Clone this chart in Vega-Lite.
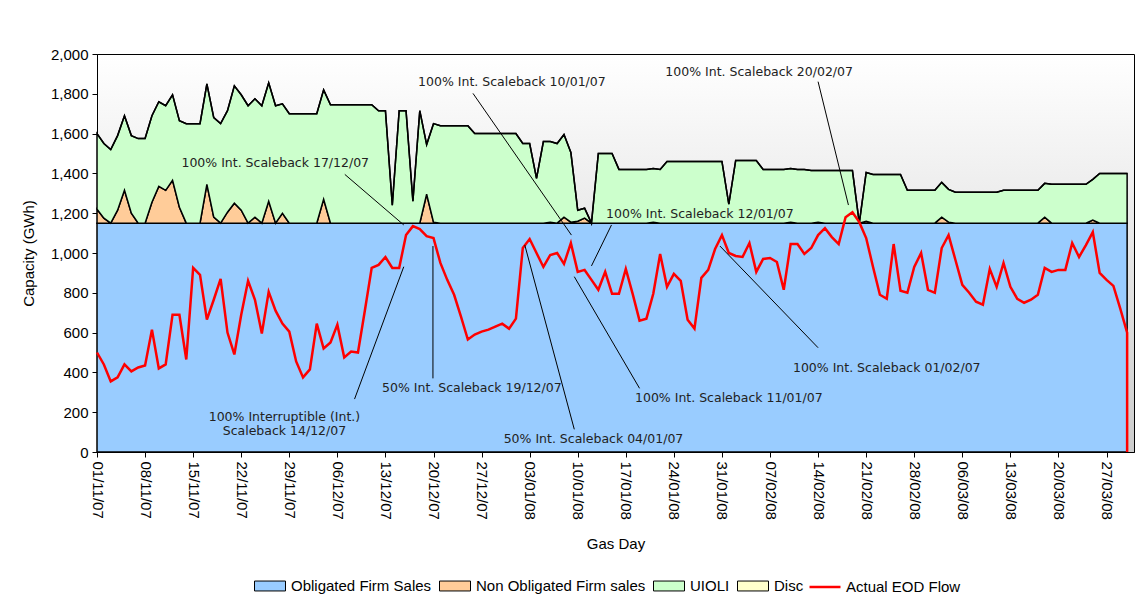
{
  "$schema": "https://vega.github.io/schema/vega-lite/v6.json",
  "autosize": {"type": "none"},
  "padding": {"left": 97, "top": 54, "right": 12, "bottom": 152},
  "width": 1037,
  "height": 398,
  "background": "#ffffff",
  "datasets": {
    "series": [
      {"key": "ofs", "name": "Obligated Firm Sales", "rank": 1},
      {"key": "nofs", "name": "Non Obligated Firm sales", "rank": 2},
      {"key": "uioli", "name": "UIOLI", "rank": 3},
      {"key": "disc", "name": "Disc", "rank": 4}
    ],
    "labels": [
      {"label": "100% Int. Scaleback 17/12/07", "date": "2007-11-26T23:00:00Z", "tval": 1451},
      {"label": "100% Int. Scaleback 10/01/07", "date": "2007-12-31T10:00:00Z", "tval": 1858},
      {"label": "100% Int. Scaleback 20/02/07", "date": "2008-02-05T10:00:00Z", "tval": 1911},
      {"label": "100% Int. Scaleback 12/01/07", "date": "2008-01-27T19:00:00Z", "tval": 1196},
      {"label": "100% Interruptible (Int.)\nScaleback 14/12/07", "date": "2007-11-28T07:00:00Z", "tval": 176},
      {"label": "50% Int. Scaleback 19/12/07", "date": "2007-12-25T14:00:00Z", "tval": 321},
      {"label": "50% Int. Scaleback 04/01/07", "date": "2008-01-12T07:00:00Z", "tval": 65},
      {"label": "100% Int. Scaleback 11/01/07", "date": "2008-02-01T00:00:00Z", "tval": 270},
      {"label": "100% Int. Scaleback 01/02/07", "date": "2008-02-24T00:00:00Z", "tval": 424}
    ],
    "leaders": [
      {"date": "2007-12-07T02:00:00Z", "v1": 1395, "date2": "2007-12-15T16:00:00Z", "v2": 1141},
      {"date": "2007-12-25T18:00:00Z", "v1": 1802, "date2": "2008-01-09T02:00:00Z", "v2": 1090},
      {"date": "2008-02-14T00:00:00Z", "v1": 1861, "date2": "2008-02-18T10:00:00Z", "v2": 1241},
      {"date": "2008-01-14T22:00:00Z", "v1": 1141, "date2": "2008-01-12T00:00:00Z", "v2": 935},
      {"date": "2007-12-08T12:00:00Z", "v1": 266, "date2": "2007-12-15T16:00:00Z", "v2": 931},
      {"date": "2007-12-19T22:00:00Z", "v1": 370, "date2": "2007-12-19T22:00:00Z", "v2": 1035},
      {"date": "2008-01-09T12:00:00Z", "v1": 114, "date2": "2008-01-02T07:00:00Z", "v2": 1040},
      {"date": "2008-01-19T00:00:00Z", "v1": 320, "date2": "2008-01-09T12:00:00Z", "v2": 881},
      {"date": "2008-02-14T00:00:00Z", "v1": 524, "date2": "2008-01-30T17:00:00Z", "v2": 1035}
    ],
    "days": [
      {"date": "2007-11-01", "ofs": 1150, "nofs": 70, "uioli": 380, "disc": 0, "flow": 500},
      {"date": "2007-11-02", "ofs": 1150, "nofs": 25, "uioli": 375, "disc": 0, "flow": 440},
      {"date": "2007-11-03", "ofs": 1150, "nofs": 0, "uioli": 370, "disc": 0, "flow": 355},
      {"date": "2007-11-04", "ofs": 1150, "nofs": 65, "uioli": 375, "disc": 0, "flow": 375},
      {"date": "2007-11-05", "ofs": 1150, "nofs": 165, "uioli": 375, "disc": 0, "flow": 440},
      {"date": "2007-11-06", "ofs": 1150, "nofs": 50, "uioli": 390, "disc": 0, "flow": 405},
      {"date": "2007-11-07", "ofs": 1150, "nofs": 0, "uioli": 425, "disc": 0, "flow": 425},
      {"date": "2007-11-08", "ofs": 1150, "nofs": 0, "uioli": 425, "disc": 0, "flow": 435},
      {"date": "2007-11-09", "ofs": 1150, "nofs": 105, "uioli": 435, "disc": 0, "flow": 615},
      {"date": "2007-11-10", "ofs": 1150, "nofs": 185, "uioli": 425, "disc": 0, "flow": 420},
      {"date": "2007-11-11", "ofs": 1150, "nofs": 165, "uioli": 425, "disc": 0, "flow": 440},
      {"date": "2007-11-12", "ofs": 1150, "nofs": 215, "uioli": 430, "disc": 0, "flow": 690},
      {"date": "2007-11-13", "ofs": 1150, "nofs": 80, "uioli": 435, "disc": 0, "flow": 690},
      {"date": "2007-11-14", "ofs": 1150, "nofs": 0, "uioli": 500, "disc": 0, "flow": 465},
      {"date": "2007-11-15", "ofs": 1150, "nofs": 0, "uioli": 500, "disc": 0, "flow": 925},
      {"date": "2007-11-16", "ofs": 1150, "nofs": 0, "uioli": 500, "disc": 0, "flow": 890},
      {"date": "2007-11-17", "ofs": 1150, "nofs": 195, "uioli": 505, "disc": 0, "flow": 665},
      {"date": "2007-11-18", "ofs": 1150, "nofs": 30, "uioli": 500, "disc": 0, "flow": 765},
      {"date": "2007-11-19", "ofs": 1150, "nofs": 0, "uioli": 500, "disc": 0, "flow": 870},
      {"date": "2007-11-20", "ofs": 1150, "nofs": 55, "uioli": 510, "disc": 0, "flow": 600},
      {"date": "2007-11-21", "ofs": 1150, "nofs": 100, "uioli": 590, "disc": 0, "flow": 490},
      {"date": "2007-11-22", "ofs": 1150, "nofs": 65, "uioli": 580, "disc": 0, "flow": 690},
      {"date": "2007-11-23", "ofs": 1150, "nofs": 0, "uioli": 590, "disc": 0, "flow": 860},
      {"date": "2007-11-24", "ofs": 1150, "nofs": 30, "uioli": 595, "disc": 0, "flow": 765},
      {"date": "2007-11-25", "ofs": 1150, "nofs": 0, "uioli": 590, "disc": 0, "flow": 595},
      {"date": "2007-11-26", "ofs": 1150, "nofs": 110, "uioli": 595, "disc": 0, "flow": 805},
      {"date": "2007-11-27", "ofs": 1150, "nofs": 0, "uioli": 590, "disc": 0, "flow": 710},
      {"date": "2007-11-28", "ofs": 1150, "nofs": 50, "uioli": 550, "disc": 0, "flow": 645},
      {"date": "2007-11-29", "ofs": 1150, "nofs": 0, "uioli": 550, "disc": 0, "flow": 605},
      {"date": "2007-11-30", "ofs": 1150, "nofs": 0, "uioli": 550, "disc": 0, "flow": 455},
      {"date": "2007-12-01", "ofs": 1150, "nofs": 0, "uioli": 550, "disc": 0, "flow": 375},
      {"date": "2007-12-02", "ofs": 1150, "nofs": 0, "uioli": 550, "disc": 0, "flow": 415},
      {"date": "2007-12-03", "ofs": 1150, "nofs": 0, "uioli": 550, "disc": 0, "flow": 645},
      {"date": "2007-12-04", "ofs": 1150, "nofs": 120, "uioli": 550, "disc": 0, "flow": 520},
      {"date": "2007-12-05", "ofs": 1150, "nofs": 0, "uioli": 595, "disc": 0, "flow": 550},
      {"date": "2007-12-06", "ofs": 1150, "nofs": 0, "uioli": 595, "disc": 0, "flow": 640},
      {"date": "2007-12-07", "ofs": 1150, "nofs": 0, "uioli": 595, "disc": 0, "flow": 475},
      {"date": "2007-12-08", "ofs": 1150, "nofs": 0, "uioli": 595, "disc": 0, "flow": 505},
      {"date": "2007-12-09", "ofs": 1150, "nofs": 0, "uioli": 595, "disc": 0, "flow": 500},
      {"date": "2007-12-10", "ofs": 1150, "nofs": 0, "uioli": 595, "disc": 0, "flow": 710},
      {"date": "2007-12-11", "ofs": 1150, "nofs": 0, "uioli": 595, "disc": 0, "flow": 925},
      {"date": "2007-12-12", "ofs": 1150, "nofs": 0, "uioli": 565, "disc": 0, "flow": 940},
      {"date": "2007-12-13", "ofs": 1150, "nofs": 0, "uioli": 565, "disc": 0, "flow": 980},
      {"date": "2007-12-14", "ofs": 1150, "nofs": 0, "uioli": 90, "disc": 0, "flow": 925},
      {"date": "2007-12-15", "ofs": 1150, "nofs": 0, "uioli": 565, "disc": 0, "flow": 925},
      {"date": "2007-12-16", "ofs": 1150, "nofs": 0, "uioli": 565, "disc": 0, "flow": 1090},
      {"date": "2007-12-17", "ofs": 1150, "nofs": 0, "uioli": 110, "disc": 0, "flow": 1135},
      {"date": "2007-12-18", "ofs": 1150, "nofs": 0, "uioli": 565, "disc": 0, "flow": 1120},
      {"date": "2007-12-19", "ofs": 1150, "nofs": 145, "uioli": 250, "disc": 0, "flow": 1085},
      {"date": "2007-12-20", "ofs": 1150, "nofs": 5, "uioli": 495, "disc": 0, "flow": 1075},
      {"date": "2007-12-21", "ofs": 1150, "nofs": 0, "uioli": 490, "disc": 0, "flow": 950},
      {"date": "2007-12-22", "ofs": 1150, "nofs": 0, "uioli": 490, "disc": 0, "flow": 865},
      {"date": "2007-12-23", "ofs": 1150, "nofs": 0, "uioli": 490, "disc": 0, "flow": 790},
      {"date": "2007-12-24", "ofs": 1150, "nofs": 0, "uioli": 490, "disc": 0, "flow": 680},
      {"date": "2007-12-25", "ofs": 1150, "nofs": 0, "uioli": 490, "disc": 0, "flow": 565},
      {"date": "2007-12-26", "ofs": 1150, "nofs": 0, "uioli": 450, "disc": 0, "flow": 590},
      {"date": "2007-12-27", "ofs": 1150, "nofs": 0, "uioli": 450, "disc": 0, "flow": 605},
      {"date": "2007-12-28", "ofs": 1150, "nofs": 0, "uioli": 450, "disc": 0, "flow": 615},
      {"date": "2007-12-29", "ofs": 1150, "nofs": 0, "uioli": 450, "disc": 0, "flow": 630},
      {"date": "2007-12-30", "ofs": 1150, "nofs": 0, "uioli": 450, "disc": 0, "flow": 645},
      {"date": "2007-12-31", "ofs": 1150, "nofs": 0, "uioli": 450, "disc": 0, "flow": 620},
      {"date": "2008-01-01", "ofs": 1150, "nofs": 0, "uioli": 450, "disc": 0, "flow": 670},
      {"date": "2008-01-02", "ofs": 1150, "nofs": 0, "uioli": 400, "disc": 0, "flow": 1025},
      {"date": "2008-01-03", "ofs": 1150, "nofs": 0, "uioli": 400, "disc": 0, "flow": 1070},
      {"date": "2008-01-04", "ofs": 1150, "nofs": 0, "uioli": 225, "disc": 0, "flow": 1000},
      {"date": "2008-01-05", "ofs": 1150, "nofs": 0, "uioli": 410, "disc": 0, "flow": 930},
      {"date": "2008-01-06", "ofs": 1150, "nofs": 5, "uioli": 405, "disc": 0, "flow": 990},
      {"date": "2008-01-07", "ofs": 1150, "nofs": 0, "uioli": 400, "disc": 0, "flow": 1000},
      {"date": "2008-01-08", "ofs": 1150, "nofs": 30, "uioli": 415, "disc": 0, "flow": 945},
      {"date": "2008-01-09", "ofs": 1150, "nofs": 5, "uioli": 350, "disc": 0, "flow": 1050},
      {"date": "2008-01-10", "ofs": 1150, "nofs": 10, "uioli": 55, "disc": 0, "flow": 905},
      {"date": "2008-01-11", "ofs": 1150, "nofs": 25, "uioli": 50, "disc": 0, "flow": 915},
      {"date": "2008-01-12", "ofs": 1150, "nofs": 0, "uioli": 0, "disc": 0, "flow": 865},
      {"date": "2008-01-13", "ofs": 1150, "nofs": 0, "uioli": 350, "disc": 0, "flow": 815},
      {"date": "2008-01-14", "ofs": 1150, "nofs": 0, "uioli": 350, "disc": 0, "flow": 905},
      {"date": "2008-01-15", "ofs": 1150, "nofs": 0, "uioli": 350, "disc": 0, "flow": 795},
      {"date": "2008-01-16", "ofs": 1150, "nofs": 0, "uioli": 270, "disc": 0, "flow": 795},
      {"date": "2008-01-17", "ofs": 1150, "nofs": 0, "uioli": 270, "disc": 0, "flow": 920},
      {"date": "2008-01-18", "ofs": 1150, "nofs": 0, "uioli": 270, "disc": 0, "flow": 795},
      {"date": "2008-01-19", "ofs": 1150, "nofs": 0, "uioli": 270, "disc": 0, "flow": 660},
      {"date": "2008-01-20", "ofs": 1150, "nofs": 0, "uioli": 270, "disc": 0, "flow": 670},
      {"date": "2008-01-21", "ofs": 1150, "nofs": 5, "uioli": 270, "disc": 0, "flow": 795},
      {"date": "2008-01-22", "ofs": 1150, "nofs": 0, "uioli": 270, "disc": 0, "flow": 995},
      {"date": "2008-01-23", "ofs": 1150, "nofs": 0, "uioli": 310, "disc": 0, "flow": 830},
      {"date": "2008-01-24", "ofs": 1150, "nofs": 0, "uioli": 310, "disc": 0, "flow": 895},
      {"date": "2008-01-25", "ofs": 1150, "nofs": 0, "uioli": 310, "disc": 0, "flow": 860},
      {"date": "2008-01-26", "ofs": 1150, "nofs": 0, "uioli": 310, "disc": 0, "flow": 665},
      {"date": "2008-01-27", "ofs": 1150, "nofs": 0, "uioli": 310, "disc": 0, "flow": 620},
      {"date": "2008-01-28", "ofs": 1150, "nofs": 0, "uioli": 310, "disc": 0, "flow": 875},
      {"date": "2008-01-29", "ofs": 1150, "nofs": 0, "uioli": 310, "disc": 0, "flow": 915},
      {"date": "2008-01-30", "ofs": 1150, "nofs": 0, "uioli": 310, "disc": 0, "flow": 1020},
      {"date": "2008-01-31", "ofs": 1150, "nofs": 0, "uioli": 310, "disc": 0, "flow": 1090},
      {"date": "2008-02-01", "ofs": 1150, "nofs": 0, "uioli": 95, "disc": 0, "flow": 1000},
      {"date": "2008-02-02", "ofs": 1150, "nofs": 0, "uioli": 315, "disc": 0, "flow": 985},
      {"date": "2008-02-03", "ofs": 1150, "nofs": 0, "uioli": 315, "disc": 0, "flow": 980},
      {"date": "2008-02-04", "ofs": 1150, "nofs": 0, "uioli": 315, "disc": 0, "flow": 1050},
      {"date": "2008-02-05", "ofs": 1150, "nofs": 0, "uioli": 315, "disc": 0, "flow": 905},
      {"date": "2008-02-06", "ofs": 1150, "nofs": 0, "uioli": 270, "disc": 0, "flow": 970},
      {"date": "2008-02-07", "ofs": 1150, "nofs": 0, "uioli": 270, "disc": 0, "flow": 975},
      {"date": "2008-02-08", "ofs": 1150, "nofs": 0, "uioli": 270, "disc": 0, "flow": 955},
      {"date": "2008-02-09", "ofs": 1150, "nofs": 0, "uioli": 270, "disc": 0, "flow": 815},
      {"date": "2008-02-10", "ofs": 1150, "nofs": 5, "uioli": 270, "disc": 0, "flow": 1045},
      {"date": "2008-02-11", "ofs": 1150, "nofs": 0, "uioli": 270, "disc": 0, "flow": 1045},
      {"date": "2008-02-12", "ofs": 1150, "nofs": 0, "uioli": 270, "disc": 0, "flow": 995},
      {"date": "2008-02-13", "ofs": 1150, "nofs": 0, "uioli": 265, "disc": 0, "flow": 1025},
      {"date": "2008-02-14", "ofs": 1150, "nofs": 5, "uioli": 260, "disc": 0, "flow": 1090},
      {"date": "2008-02-15", "ofs": 1150, "nofs": 0, "uioli": 265, "disc": 0, "flow": 1125},
      {"date": "2008-02-16", "ofs": 1150, "nofs": 0, "uioli": 265, "disc": 0, "flow": 1080},
      {"date": "2008-02-17", "ofs": 1150, "nofs": 0, "uioli": 265, "disc": 0, "flow": 1045},
      {"date": "2008-02-18", "ofs": 1150, "nofs": 0, "uioli": 265, "disc": 0, "flow": 1180},
      {"date": "2008-02-19", "ofs": 1150, "nofs": 0, "uioli": 265, "disc": 0, "flow": 1205},
      {"date": "2008-02-20", "ofs": 1150, "nofs": 0, "uioli": 0, "disc": 0, "flow": 1155},
      {"date": "2008-02-21", "ofs": 1150, "nofs": 10, "uioli": 245, "disc": 0, "flow": 1075},
      {"date": "2008-02-22", "ofs": 1150, "nofs": 0, "uioli": 245, "disc": 0, "flow": 930},
      {"date": "2008-02-23", "ofs": 1150, "nofs": 0, "uioli": 245, "disc": 0, "flow": 790},
      {"date": "2008-02-24", "ofs": 1150, "nofs": 0, "uioli": 245, "disc": 0, "flow": 770},
      {"date": "2008-02-25", "ofs": 1150, "nofs": 0, "uioli": 245, "disc": 0, "flow": 1045},
      {"date": "2008-02-26", "ofs": 1150, "nofs": 0, "uioli": 245, "disc": 0, "flow": 810},
      {"date": "2008-02-27", "ofs": 1150, "nofs": 0, "uioli": 165, "disc": 0, "flow": 800},
      {"date": "2008-02-28", "ofs": 1150, "nofs": 0, "uioli": 165, "disc": 0, "flow": 930},
      {"date": "2008-02-29", "ofs": 1150, "nofs": 0, "uioli": 165, "disc": 0, "flow": 1000},
      {"date": "2008-03-01", "ofs": 1150, "nofs": 0, "uioli": 165, "disc": 0, "flow": 815},
      {"date": "2008-03-02", "ofs": 1150, "nofs": 0, "uioli": 165, "disc": 0, "flow": 800},
      {"date": "2008-03-03", "ofs": 1150, "nofs": 30, "uioli": 175, "disc": 0, "flow": 1025},
      {"date": "2008-03-04", "ofs": 1150, "nofs": 5, "uioli": 165, "disc": 0, "flow": 1090},
      {"date": "2008-03-05", "ofs": 1150, "nofs": 0, "uioli": 155, "disc": 0, "flow": 965},
      {"date": "2008-03-06", "ofs": 1150, "nofs": 0, "uioli": 155, "disc": 0, "flow": 840},
      {"date": "2008-03-07", "ofs": 1150, "nofs": 0, "uioli": 155, "disc": 0, "flow": 800},
      {"date": "2008-03-08", "ofs": 1150, "nofs": 0, "uioli": 155, "disc": 0, "flow": 755},
      {"date": "2008-03-09", "ofs": 1150, "nofs": 0, "uioli": 155, "disc": 0, "flow": 740},
      {"date": "2008-03-10", "ofs": 1150, "nofs": 0, "uioli": 155, "disc": 0, "flow": 920},
      {"date": "2008-03-11", "ofs": 1150, "nofs": 0, "uioli": 155, "disc": 0, "flow": 830},
      {"date": "2008-03-12", "ofs": 1150, "nofs": 0, "uioli": 165, "disc": 0, "flow": 950},
      {"date": "2008-03-13", "ofs": 1150, "nofs": 0, "uioli": 165, "disc": 0, "flow": 830},
      {"date": "2008-03-14", "ofs": 1150, "nofs": 0, "uioli": 165, "disc": 0, "flow": 770},
      {"date": "2008-03-15", "ofs": 1150, "nofs": 0, "uioli": 165, "disc": 0, "flow": 750},
      {"date": "2008-03-16", "ofs": 1150, "nofs": 0, "uioli": 165, "disc": 0, "flow": 765},
      {"date": "2008-03-17", "ofs": 1150, "nofs": 0, "uioli": 165, "disc": 0, "flow": 790},
      {"date": "2008-03-18", "ofs": 1150, "nofs": 30, "uioli": 170, "disc": 0, "flow": 925},
      {"date": "2008-03-19", "ofs": 1150, "nofs": 0, "uioli": 195, "disc": 0, "flow": 905},
      {"date": "2008-03-20", "ofs": 1150, "nofs": 0, "uioli": 195, "disc": 0, "flow": 915},
      {"date": "2008-03-21", "ofs": 1150, "nofs": 0, "uioli": 195, "disc": 0, "flow": 915},
      {"date": "2008-03-22", "ofs": 1150, "nofs": 0, "uioli": 195, "disc": 0, "flow": 1050},
      {"date": "2008-03-23", "ofs": 1150, "nofs": 0, "uioli": 195, "disc": 0, "flow": 980},
      {"date": "2008-03-24", "ofs": 1150, "nofs": 0, "uioli": 195, "disc": 0, "flow": 1040},
      {"date": "2008-03-25", "ofs": 1150, "nofs": 15, "uioli": 205, "disc": 0, "flow": 1105},
      {"date": "2008-03-26", "ofs": 1150, "nofs": 0, "uioli": 250, "disc": 0, "flow": 900},
      {"date": "2008-03-27", "ofs": 1150, "nofs": 0, "uioli": 250, "disc": 0, "flow": 865},
      {"date": "2008-03-28", "ofs": 1150, "nofs": 0, "uioli": 250, "disc": 0, "flow": 835},
      {"date": "2008-03-29", "ofs": 1150, "nofs": 0, "uioli": 250, "disc": 0, "flow": 720},
      {"date": "2008-03-30", "ofs": 1150, "nofs": 0, "uioli": 250, "disc": 0, "flow": 600},
      {"date": "2008-03-30", "flow": 0}
    ]
  },
  "encoding": {
    "x": {
      "field": "date",
      "type": "temporal",
      "title": "Gas Day",
      "scale": {
        "type": "utc",
        "domain": [
          {"year": 2007, "month": 11, "date": 1, "utc": true},
          {"year": 2008, "month": 3, "date": 31, "utc": true}
        ],
        "nice": false
      },
      "axis": {
        "labelExpr": "utcFormat(datum.value, '%d/%m/%y')",
        "labelAngle": 90,
        "labelAlign": "left",
        "labelBaseline": "middle",
        "labelOverlap": false,
        "labelBound": false,
        "labelFlush": false,
        "labelPadding": 4,
        "titlePadding": 17,
        "values": [
          {"year": 2007, "month": 11, "date": 1, "utc": true},
          {"year": 2007, "month": 11, "date": 8, "utc": true},
          {"year": 2007, "month": 11, "date": 15, "utc": true},
          {"year": 2007, "month": 11, "date": 22, "utc": true},
          {"year": 2007, "month": 11, "date": 29, "utc": true},
          {"year": 2007, "month": 12, "date": 6, "utc": true},
          {"year": 2007, "month": 12, "date": 13, "utc": true},
          {"year": 2007, "month": 12, "date": 20, "utc": true},
          {"year": 2007, "month": 12, "date": 27, "utc": true},
          {"year": 2008, "month": 1, "date": 3, "utc": true},
          {"year": 2008, "month": 1, "date": 10, "utc": true},
          {"year": 2008, "month": 1, "date": 17, "utc": true},
          {"year": 2008, "month": 1, "date": 24, "utc": true},
          {"year": 2008, "month": 1, "date": 31, "utc": true},
          {"year": 2008, "month": 2, "date": 7, "utc": true},
          {"year": 2008, "month": 2, "date": 14, "utc": true},
          {"year": 2008, "month": 2, "date": 21, "utc": true},
          {"year": 2008, "month": 2, "date": 28, "utc": true},
          {"year": 2008, "month": 3, "date": 6, "utc": true},
          {"year": 2008, "month": 3, "date": 13, "utc": true},
          {"year": 2008, "month": 3, "date": 20, "utc": true},
          {"year": 2008, "month": 3, "date": 27, "utc": true}
        ]
      }
    }
  },
  "layer": [
    {
      "data": {"name": "days"},
      "transform": [
        {"fold": ["ofs", "nofs", "uioli", "disc"], "as": ["key", "value"]},
        {"filter": "isValid(datum.value)"},
        {"lookup": "key", "from": {"data": {"name": "series"}, "key": "key", "fields": ["name", "rank"]}}
      ],
      "mark": {"type": "area", "stroke": "#000000", "strokeWidth": 1.5, "interpolate": "linear", "opacity": 1},
      "encoding": {
        "y": {
          "field": "value",
          "type": "quantitative",
          "stack": "zero",
          "title": "Capacity (GWh)",
          "scale": {"domain": [0, 2000], "nice": false},
          "axis": {
            "values": [0, 200, 400, 600, 800, 1000, 1200, 1400, 1600, 1800, 2000],
            "format": ",.0f",
            "labelOverlap": false,
            "titlePadding": 14,
            "labelPadding": 4
          }
        },
        "color": {
          "field": "name",
          "type": "nominal",
          "scale": {
            "domain": ["Obligated Firm Sales", "Non Obligated Firm sales", "UIOLI", "Disc"],
            "range": ["#99CCFF", "#FFCC99", "#CCFFCC", "#FFFFCC"]
          },
          "legend": {
            "title": null,
            "orient": "none",
            "legendX": 157,
            "legendY": 516,
            "direction": "horizontal",
            "symbolType": "M-1,-0.32H1V0.32H-1Z",
            "symbolSize": 961,
            "symbolStrokeColor": "#000000",
            "symbolStrokeWidth": 1,
            "symbolOpacity": 1,
            "labelFont": "Liberation Sans",
            "labelFontSize": 15,
            "labelColor": "#000000",
            "labelOffset": 5,
            "columnPadding": 5,
            "labelLimit": 400
          }
        },
        "order": {"field": "rank", "type": "quantitative"}
      }
    },
    {
      "data": {"name": "days"},
      "mark": {"type": "line", "strokeWidth": 2.5, "interpolate": "linear"},
      "encoding": {
        "y": {
          "field": "flow",
          "type": "quantitative",
          "title": "Capacity (GWh)",
          "axis": {
            "values": [0, 200, 400, 600, 800, 1000, 1200, 1400, 1600, 1800, 2000],
            "format": ",.0f",
            "labelOverlap": false,
            "titlePadding": 14,
            "labelPadding": 4
          }
        },
        "stroke": {
          "datum": "Actual EOD Flow",
          "scale": {"domain": ["Actual EOD Flow"], "range": ["#FF0000"]},
          "legend": {
            "title": null,
            "orient": "none",
            "legendX": 711,
            "legendY": 516,
            "symbolType": "stroke",
            "symbolSize": 961,
            "symbolStrokeWidth": 2.5,
            "labelFont": "Liberation Sans",
            "labelFontSize": 15,
            "labelColor": "#000000",
            "labelOffset": 4,
            "labelLimit": 400
          }
        }
      }
    },
    {
      "data": {"name": "leaders"},
      "mark": {"type": "rule", "color": "#000000", "strokeWidth": 1},
      "encoding": {
        "x2": {"field": "date2"},
        "y": {
          "field": "v1",
          "type": "quantitative",
          "title": "Capacity (GWh)",
          "axis": {
            "values": [0, 200, 400, 600, 800, 1000, 1200, 1400, 1600, 1800, 2000],
            "format": ",.0f",
            "labelOverlap": false,
            "titlePadding": 14,
            "labelPadding": 4
          }
        },
        "y2": {"field": "v2"}
      }
    },
    {
      "data": {"name": "labels"},
      "mark": {"type": "text", "font": "DejaVu Sans", "fontSize": 12.5, "color": "#222222", "align": "center", "baseline": "middle", "lineBreak": "\n"},
      "encoding": {
        "y": {
          "field": "tval",
          "type": "quantitative",
          "title": "Capacity (GWh)",
          "axis": {
            "values": [0, 200, 400, 600, 800, 1000, 1200, 1400, 1600, 1800, 2000],
            "format": ",.0f",
            "labelOverlap": false,
            "titlePadding": 14,
            "labelPadding": 4
          }
        },
        "text": {"field": "label", "type": "nominal"}
      }
    }
  ],
  "resolve": {"scale": {"color": "independent", "stroke": "independent"}},
  "config": {
    "view": {
      "stroke": "#000000",
      "strokeWidth": 1,
      "fill": {
        "gradient": "linear",
        "x1": 0, "y1": 0, "x2": 0, "y2": 1,
        "stops": [
          {"offset": 0, "color": "#ffffff"},
          {"offset": 1, "color": "#cccccc"}
        ]
      }
    },
    "axis": {
      "labelFont": "Liberation Sans",
      "titleFont": "Liberation Sans",
      "labelFontSize": 15,
      "titleFontSize": 15,
      "titleFontWeight": "normal",
      "labelColor": "#000000",
      "titleColor": "#000000",
      "domainColor": "#000000",
      "tickColor": "#000000",
      "domainWidth": 1,
      "tickWidth": 1,
      "tickSize": 5,
      "labelOverlap": false,
      "grid": false
    }
  }
}
